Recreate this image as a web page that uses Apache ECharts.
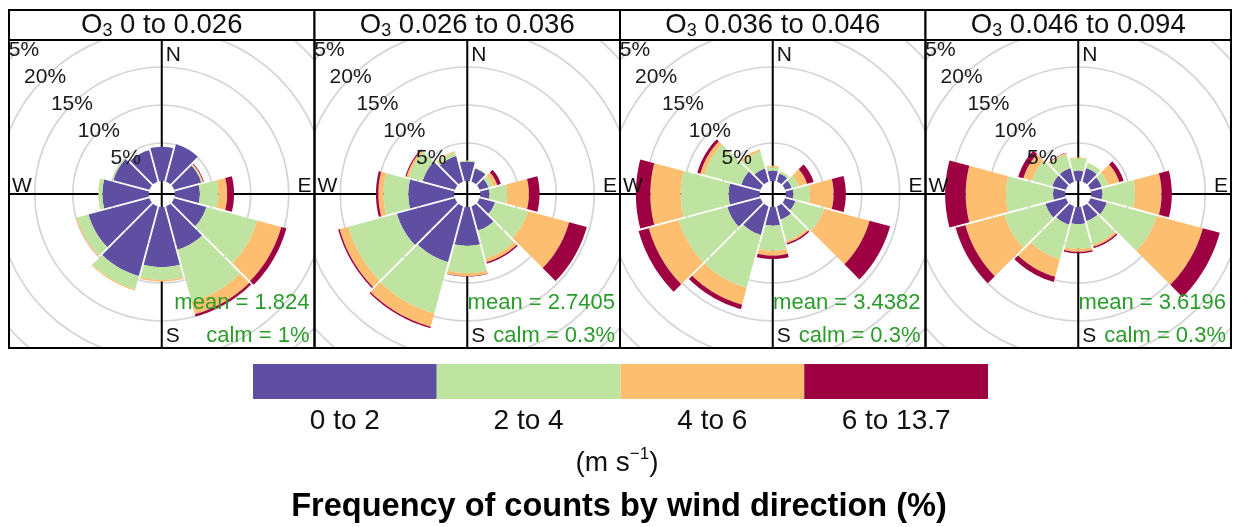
<!DOCTYPE html>
<html><head><meta charset="utf-8">
<script src="https://cdn.jsdelivr.net/npm/echarts@6/dist/echarts.min.js"></script>
<style>html,body{margin:0;padding:0;background:#fff}#c{width:1236px;height:527px}</style>
</head><body><div id="c"></div>
<script>
// ---------------- data ----------------
const directions = [0, 30, 60, 90, 120, 150, 180, 210, 240, 270, 300, 330];
const speedBins = ['0 to 2', '2 to 4', '4 to 6', '6 to 13.7'];
const panelRanges = ['0 to 0.026', '0.026 to 0.036', '0.036 to 0.046', '0.046 to 0.094'];
const meanSpeed = ['1.824', '2.7405', '3.4382', '3.6196'];
const calmPercent = ['1%', '0.3%', '0.3%', '0.3%'];
const ringTicks = [5, 10, 15, 20, 25];

// frequency (%) per direction, one array per speed bin, per O3 panel
const p1_0to2   = [4.5, 5.1, 3.7, 3.3, 4.4, 5.9, 7.9, 9.5, 8.3, 6.1, 4.9, 4.3];
const p1_2to4   = [0, 0, 0.15, 2.45, 6.9, 7.1, 1.7, 1.8, 1.5, 0.5, 0.15, 0];
const p1_4to6   = [0, 0, 0.1, 1.15, 3.3, 1.7, 0.2, 0.15, 0.15, 0.05, 0, 0];
const p1_6to137 = [0, 0, 0.1, 0.9, 0.7, 0.3, 0, 0, 0, 0, 0, 0];

const p2_0to2   = [2.55, 1.8, 1.2, 1.2, 2.1, 3.3, 5.1, 7.6, 7.9, 6.05, 4.4, 3.5];
const p2_2to4   = [0.15, 0.1, 0.6, 2.35, 4.5, 3.8, 3.6, 7.0, 6.6, 3.25, 1.9, 0.5];
const p2_4to6   = [0, 0, 0.6, 2.85, 5.6, 0.5, 0.4, 1.8, 1.2, 0.7, 0.3, 0.15];
const p2_6to137 = [0, 0, 0.5, 1.4, 2.4, 0.2, 0.05, 0.2, 0.2, 0.3, 0.15, 0];

const p3_0to2   = [1.35, 1.1, 0.9, 1.0, 1.4, 1.8, 2.45, 3.9, 4.5, 4.1, 2.6, 1.8];
const p3_2to4   = [0.45, 0.3, 0.95, 2.2, 3.9, 2.9, 3.3, 7.2, 6.6, 6.3, 5.0, 2.3];
const p3_4to6   = [0.2, 0.05, 1.15, 3.1, 6.2, 0.3, 0.65, 2.3, 4.1, 4.0, 0.6, 0.3];
const p3_6to137 = [0, 0, 0.9, 1.6, 2.8, 0.2, 0.45, 0.6, 1.4, 1.9, 0.4, 0];

const p4_0to2   = [1.35, 1.85, 1.5, 1.45, 2.2, 2.0, 2.25, 2.5, 2.8, 1.6, 1.85, 1.85];
const p4_2to4   = [1.65, 0.65, 0.9, 4.3, 6.8, 3.2, 3.25, 4.7, 5.6, 6.2, 2.75, 1.9];
const p4_4to6   = [0.1, 0.05, 1.5, 3.5, 6.3, 0.3, 0.4, 2.4, 5.3, 5.3, 1.2, 0.15];
const p4_6to137 = [0, 0, 0.6, 1.35, 2.3, 0.2, 0.2, 0.7, 1.3, 2.7, 0.7, 0.05];

const panelBins = [
  [p1_0to2, p1_2to4, p1_4to6, p1_6to137],
  [p2_0to2, p2_2to4, p2_4to6, p2_6to137],
  [p3_0to2, p3_2to4, p3_4to6, p3_6to137],
  [p4_0to2, p4_2to4, p4_4to6, p4_6to137]
];

// ---------------- style / layout ----------------
const binColors = ['#5E4FA2', '#BFE3A0', '#FDBF6F', '#9E0142'];
const FONT = '"Liberation Sans", Arial, sans-serif';
const PANEL_LEFT = [9, 314.5, 620, 925.5];
const PANEL_W = 305.5;
const STRIP_TOP = 10, STRIP_H = 30;
const PLOT_TOP = 40, PLOT_H = 308;
const PX_PER_PCT = 7.6;
const HOLE = 13 / PX_PER_PCT;       // inner offset (in % units)
const HALF_X = PANEL_W / 2 / PX_PER_PCT;
const HALF_Y = PLOT_H / 2 / PX_PER_PCT;
const GREEN = '#2a9c2a';

const chart = echarts.init(document.getElementById('c'), null, {renderer: 'canvas'});

const grids = [], xAxes = [], yAxes = [], series = [], graphics = [];

function ringRender(params, api) {
  const c = api.coord([0, 0]);
  const u = api.size([1, 1])[0];
  const v = api.value(0);
  return {type: 'circle', z2: 1, shape: {cx: c[0], cy: c[1], r: (HOLE + v) * u},
    style: {fill: 'none', stroke: '#d4d4d4', lineWidth: 1.7}};
}
function ringLabelRender(params, api) {
  const c = api.coord([0, 0]);
  const u = api.size([1, 1])[0];
  const v = api.value(0);
  const R = (HOLE + v) * u;
  return {type: 'text', z2: 100, x: c[0] - R * Math.SQRT1_2, y: c[1] - R * Math.SQRT1_2,
    style: {text: v + '%', fontSize: 21, fontFamily: FONT, fill: '#1a1a1a', align: 'center', verticalAlign: 'middle'}};
}
function crossRender(params, api) {
  const c = api.coord([0, 0]);
  const l = api.coord([-HALF_X * 2, 0]), r = api.coord([HALF_X * 2, 0]);
  const t = api.coord([0, HALF_Y * 2]), b = api.coord([0, -HALF_Y * 2]);
  return {type: 'group', children: [
    {type: 'line', z2: 5, shape: {x1: l[0], y1: c[1], x2: r[0], y2: c[1]}, style: {stroke: '#000', lineWidth: 2}},
    {type: 'line', z2: 5, shape: {x1: c[0], y1: t[1], x2: c[0], y2: b[1]}, style: {stroke: '#000', lineWidth: 2}}
  ]};
}
function wedgeRender(params, api) {
  const dir = api.value(0), lo = api.value(1), hi = api.value(2), bin = api.value(3);
  const c = api.coord([0, 0]);
  const u = api.size([1, 1])[0];
  const r0 = (HOLE + lo) * u, r1 = (HOLE + hi) * u;
  const th = (dir - 90) * Math.PI / 180;
  const half = 15 * Math.PI / 180;
  const g = 0.9;
  const pts = [];
  const N = 24;
  function arc(r, reverse) {
    const da = Math.asin(Math.min(0.9, g / r));
    const a1 = th - half + da, a2 = th + half - da;
    for (let k = 0; k <= N; k++) {
      const t = reverse ? 1 - k / N : k / N;
      const a = a1 + (a2 - a1) * t;
      pts.push([c[0] + r * Math.cos(a), c[1] + r * Math.sin(a)]);
    }
  }
  arc(r1, false);
  arc(r0, true);
  return {type: 'polygon', z2: 50, shape: {points: pts}, style: {fill: binColors[bin]}};
}

for (let i = 0; i < 4; i++) {
  const L = PANEL_LEFT[i];
  grids.push({left: L, top: PLOT_TOP, width: PANEL_W, height: PLOT_H, containLabel: false});
  xAxes.push({type: 'value', gridIndex: i, min: -HALF_X, max: HALF_X, show: false});
  yAxes.push({type: 'value', gridIndex: i, min: -HALF_Y, max: HALF_Y, show: false});

  series.push({type: 'custom', xAxisIndex: i, yAxisIndex: i, clip: true, z: 1, silent: true,
    renderItem: ringRender, data: ringTicks.map(v => [v, 0])});
  series.push({type: 'custom', xAxisIndex: i, yAxisIndex: i, clip: true, z: 2, silent: true,
    renderItem: crossRender, data: [[0, 0]]});

  const items = [];
  const bins = panelBins[i];
  directions.forEach((d, k) => {
    let cum = 0;
    bins.forEach((arr, b) => {
      const v = arr[k];
      if (v > 0) items.push([d, cum, cum + v, b]);
      cum += v;
    });
  });
  series.push({type: 'custom', xAxisIndex: i, yAxisIndex: i, clip: true, z: 5, silent: true,
    renderItem: wedgeRender, encode: {x: -1, y: -1}, data: items});
  series.push({type: 'custom', xAxisIndex: i, yAxisIndex: i, clip: true, z: 8, silent: true,
    renderItem: ringLabelRender, data: ringTicks.map(v => [v, 0])});

  const cx = L + PANEL_W / 2;
  const txt = (x, y, s, align, color, fs) => ({type: 'text', x: x, y: y, z: 20,
    style: {text: s, fontSize: fs || 21, fontFamily: FONT, fill: color || '#111', align: align, verticalAlign: 'middle'}});
  graphics.push(txt(cx + 4, 55, 'N', 'left'));
  graphics.push(txt(cx + 4, 336, 'S', 'left'));
  graphics.push(txt(L + 3, 186, 'W', 'left'));
  graphics.push(txt(L + PANEL_W - 3, 186, 'E', 'right'));
  graphics.push(txt(L + PANEL_W - 5, 303, 'mean = ' + meanSpeed[i], 'right', GREEN, 22));
  graphics.push(txt(L + PANEL_W - 5, 336, 'calm = ' + calmPercent[i], 'right', GREEN, 22));

  // strip
  graphics.push({type: 'rect', z: 30, shape: {x: L, y: STRIP_TOP, width: PANEL_W, height: STRIP_H},
    style: {fill: '#fff', stroke: '#000', lineWidth: 2}});
  graphics.push({type: 'text', z: 31, x: cx, y: STRIP_TOP + STRIP_H / 2,
    style: {text: '{a|O}{s|3}{a| ' + panelRanges[i] + '}', align: 'center', verticalAlign: 'middle',
      rich: {
        a: {fontSize: 27.5, fontFamily: FONT, fill: '#111', lineHeight: 30},
        s: {fontSize: 18, fontFamily: FONT, fill: '#111', lineHeight: 18, verticalAlign: 'bottom'}
      }}});
  // plot border
  graphics.push({type: 'rect', z: 30, shape: {x: L, y: PLOT_TOP, width: PANEL_W, height: PLOT_H},
    style: {fill: 'none', stroke: '#000', lineWidth: 2}});
}

// colour key
grids.push({left: 253, top: 364, width: 735, height: 35, containLabel: false});
xAxes.push({type: 'category', gridIndex: 4, data: speedBins, axisLine: {show: false}, axisTick: {show: false},
  axisLabel: {fontSize: 28, fontFamily: FONT, color: '#111', margin: 8}});
yAxes.push({type: 'value', gridIndex: 4, min: 0, max: 1, show: false});
series.push({type: 'bar', xAxisIndex: 4, yAxisIndex: 4, barWidth: '100%', barCategoryGap: 0, silent: true,
  data: speedBins.map((s, i) => ({value: 1, itemStyle: {color: binColors[i]}}))});

graphics.push({type: 'text', x: 617, y: 463, z: 20,
  style: {text: '{a|(m s}{p|−1}{a|)}', align: 'center', verticalAlign: 'middle',
    rich: {
      a: {fontSize: 28, fontFamily: FONT, fill: '#111', lineHeight: 34},
      p: {fontSize: 17, fontFamily: FONT, fill: '#111', lineHeight: 17, verticalAlign: 'top'}
    }}});
graphics.push({type: 'text', x: 619, y: 507, z: 20,
  style: {text: 'Frequency of counts by wind direction (%)', align: 'center', verticalAlign: 'middle',
    fontSize: 32.5, fontWeight: 'bold', fontFamily: FONT, fill: '#000'}});

chart.setOption({
  animation: false,
  backgroundColor: '#fff',
  grid: grids, xAxis: xAxes, yAxis: yAxes, series: series,
  graphic: graphics
});
</script></body></html>
